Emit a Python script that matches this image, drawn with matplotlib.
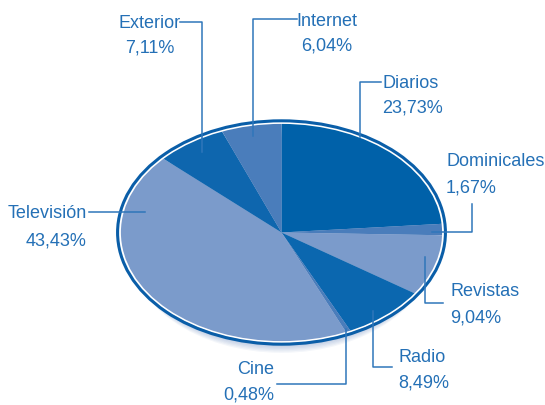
import matplotlib.pyplot as plt
from matplotlib.patches import Ellipse

# datos
medios = ['Diarios', 'Dominicales', 'Revistas', 'Radio', 'Cine',
          'Televisión', 'Exterior', 'Internet']
valores = [23.73, 1.67, 9.04, 8.49, 0.48, 43.43, 7.11, 6.04]
etiquetas = ['23,73%', '1,67%', '9,04%', '8,49%', '0,48%',
             '43,43%', '7,11%', '6,04%']

oscuro = '#0061a9'
medio = '#4a7dbb'
claro = '#7b9bcb'
colores = [oscuro, medio, claro, '#0b67af', medio, claro, '#0e66ae', medio]
texto_col = '#2470b6'

W, H = 545, 406
fig = plt.figure(figsize=(W / 100, H / 100), dpi=100)

# elipse del pastel en pixeles
cx, cy, rx, ry = 281.5, 233.5, 161.5, 109.5
ax = fig.add_axes([(cx - rx) / W, (H - cy - ry) / H, 2 * rx / W, 2 * ry / H])

# sombra suave bajo el borde
for i in range(8):
    ax.add_patch(Ellipse((0, -0.03 - 0.012 * i), 1.97 - 0.01 * i, 1.97,
                         facecolor='#2a5aa8', edgecolor='none',
                         alpha=0.05, zorder=0, clip_on=False))

ax.pie(valores, colors=colores, startangle=90, counterclock=False,
       radius=1, wedgeprops=dict(linewidth=0, edgecolor='none'))
ax.set_aspect('auto')
ax.set_xlim(-1, 1)
ax.set_ylim(-1, 1)
ax.add_patch(Ellipse((0, 0), 2.0, 2.0, facecolor='none', edgecolor='white',
                     linewidth=1.3, zorder=5, clip_on=False))
ax.add_patch(Ellipse((0, 0), 2.03, 2.04, facecolor='none', edgecolor='#0a5ea8',
                     linewidth=2.2, zorder=5, clip_on=False))
ax.axis('off')

# capa de etiquetas en pixeles
ov = fig.add_axes([0, 0, 1, 1])
ov.set_xlim(0, W)
ov.set_ylim(H, 0)
ov.axis('off')

# posicion del texto (x, y nombre, y porcentaje, alineacion) y lineas guia
pos_texto = {
    'Diarios': (382, 83, 108, 'left'),
    'Dominicales': (446, 162, 188, 'left'),
    'Revistas': (450, 292, 318, 'left'),
    'Radio': (398, 358, 383, 'left'),
    'Cine': (274, 370, 395, 'right'),
    'Televisión': (87, 214, 241, 'right'),
    'Exterior': (150, 23, 48, 'center'),
    'Internet': (327, 21, 46, 'center'),
}
guias = {
    'Diarios': [(381, 83), (360, 83), (360, 138)],
    'Dominicales': [(472, 205), (472, 233), (432, 233)],
    'Revistas': [(425, 258), (425, 304), (443, 304)],
    'Radio': [(373, 312), (373, 368), (392, 368)],
    'Cine': [(346, 330), (346, 385), (277, 385)],
    'Televisión': [(89, 213), (145, 213)],
    'Exterior': [(180, 23), (202, 23), (202, 153)],
    'Internet': [(297, 20), (253, 20), (253, 137)],
}

for m, e in zip(medios, etiquetas):
    x, y1, y2, al = pos_texto[m]
    ov.text(x, y1, m, ha=al, va='center', fontsize=13, color=texto_col,
            family='Liberation Sans')
    ov.text(x, y2, e, ha=al, va='center', fontsize=13, color=texto_col,
            family='Liberation Sans')
    xs = [p[0] for p in guias[m]]
    ys = [p[1] for p in guias[m]]
    ov.plot(xs, ys, color='#2f76ba', linewidth=1.1, zorder=6)

fig.savefig('out.png', dpi=100)
